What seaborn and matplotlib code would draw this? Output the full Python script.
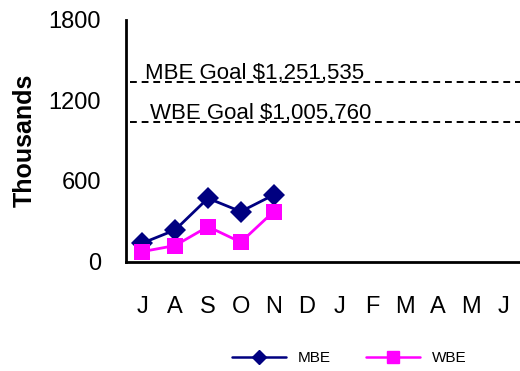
import pandas as pd
import matplotlib.pyplot as plt
import seaborn as sns

# %% data (thousands of dollars)
months = ['J', 'A', 'S', 'O', 'N', 'D', 'J', 'F', 'M', 'A', 'M', 'J']
mbe = [137, 235, 471, 372, 496]
wbe = [74, 119, 260, 144, 372]
goal_labels = ['MBE Goal $1,251,535', 'WBE Goal $1,005,760']
goal_lines = [1335, 1040]

df = pd.concat([
    pd.DataFrame({'month': range(len(mbe)), 'value': mbe, 'series': 'MBE'}),
    pd.DataFrame({'month': range(len(wbe)), 'value': wbe, 'series': 'WBE'}),
])

# %% plot
sns.set_style('white')
plt.rcParams['font.family'] = ['Liberation Sans', 'DejaVu Sans']
plt.rcParams.update({'text.color': 'black', 'axes.labelcolor': 'black',
                     'xtick.color': 'black', 'ytick.color': 'black'})
fig = plt.figure(figsize=(5.2, 3.71), dpi=100)
ax = fig.add_axes([0.242, 0.295, 0.758, 0.652])

sns.lineplot(data=df, x='month', y='value', hue='series', style='series',
             markers={'MBE': 'D', 'WBE': 's'}, dashes=False,
             palette={'MBE': '#000080', 'WBE': '#FF00FF'},
             markersize=11, markeredgewidth=0, linewidth=2, ax=ax, legend=False)

for lbl, val, xx in zip(goal_labels, goal_lines, [0.08, 0.23]):
    ax.axhline(val, color='black', linestyle=(0, (3.5, 2.5)), linewidth=1.4, xmin=0.01)
    ax.text(xx, val + 22, lbl, fontsize=16, va='baseline', ha='left')

ax.set_xlim(-0.5, len(months) - 0.5)
ax.set_ylim(0, 1800)
ax.set_yticks([0, 600, 1200, 1800])
ax.set_xticks(range(len(months)))
ax.set_xticklabels(months)
ax.set_xticks([i - 0.5 for i in range(len(months) + 1)], minor=True)
ax.tick_params(axis='x', which='major', length=0, pad=25, labelsize=17)
ax.tick_params(axis='x', which='minor', length=6, width=1.5, direction='out')
ax.tick_params(axis='y', length=7, width=1.5, direction='out', labelsize=17, pad=11)
ax.set_xlabel(None)
ax.set_ylabel('Thousands', fontsize=18, fontweight='bold', labelpad=8)
sns.despine(top=True, right=True)
for s in ['left', 'bottom']:
    ax.spines[s].set_linewidth(2)
    ax.spines[s].set_color('black')

handles = [plt.Line2D([], [], color='#000080', marker='D', markersize=7, lw=1.8),
           plt.Line2D([], [], color='#FF00FF', marker='s', markersize=8, lw=1.8)]
fig.legend(handles, ['MBE', 'WBE'], loc='center', bbox_to_anchor=(0.672, 0.035),
           ncol=2, frameon=False, fontsize=11, handlelength=3.5, columnspacing=2.3)

plt.savefig('out.png', dpi=100)
